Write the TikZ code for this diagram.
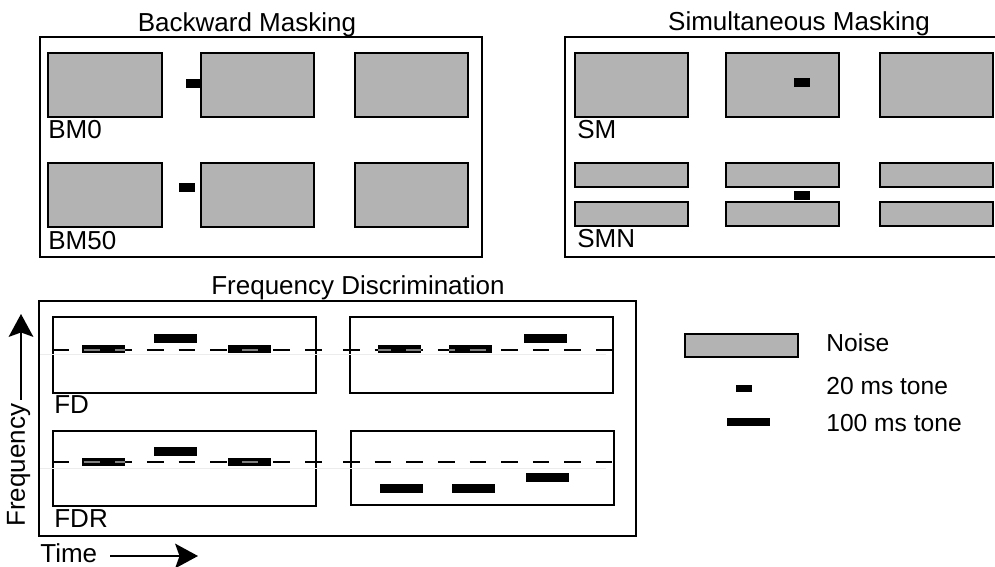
\documentclass[tikz,border=0pt]{standalone}
\usepackage{fontspec}
\setmainfont{Liberation Sans}
\usepackage{tikz}
\usetikzlibrary{arrows.meta}

\definecolor{noisegray}{RGB}{179,179,179}
\definecolor{faintgray}{RGB}{236,236,236}

\tikzset{
    frame/.style={draw=black, line width=1.3pt},
    noise/.style={fill=noisegray, draw=black, line width=1.2pt},
    tone/.style={fill=black},
    freqline/.style={draw=black, line width=1.4pt, dash pattern=on 9.5pt off 8.5pt},
    refline/.style={draw=faintgray, line width=0.5pt},
    title/.style={anchor=base, inner sep=0pt, font=\fontsize{14.8}{17}\selectfont},
    tag/.style={anchor=base west, inner sep=0pt, font=\fontsize{14.8}{17}\selectfont},
    legendtext/.style={anchor=base west, inner sep=0pt, font=\fontsize{14}{17}\selectfont},
    axis/.style={line width=1.3pt, -{Stealth[length=13pt, width=14pt, inset=2.5pt]}}
}

\begin{document}
\begin{tikzpicture}[x=0.02cm, y=-0.02cm]
                \useasboundingbox (0,0) rectangle (995,567);

                % backward masking
                \node[title] (bmtitle) at (247,32) {Backward Masking};
                \draw[frame] (40,37) rectangle (482,257);
                \filldraw[noise] (48,53) rectangle (162,117);
                \filldraw[noise] (201,53) rectangle (314,117);
                \filldraw[noise] (355,53) rectangle (468,117);
                \fill[tone] (186,79) rectangle (201,88);
                \node[tag] (bmzero) at (48,139) {BM0};

                \filldraw[noise] (48,163) rectangle (162,227);
                \filldraw[noise] (201,163) rectangle (314,227);
                \filldraw[noise] (355,163) rectangle (468,227);
                \fill[tone] (179,183) rectangle (195,192);
                \node[tag] (bmfifty) at (48,250) {BM50};

                % simultaneous masking
                \node[title] (smtitle) at (799,31) {Simultaneous Masking};
                \draw[frame] (565,37) rectangle (1005,257);
                \filldraw[noise] (575,53) rectangle (688,117);
                \filldraw[noise] (726,53) rectangle (839,117);
                \filldraw[noise] (880,53) rectangle (993,117);
                \fill[tone] (794,78) rectangle (810,87);
                \node[tag] (sm) at (577,139) {SM};

                \filldraw[noise] (575,163) rectangle (688,187);
                \filldraw[noise] (726,163) rectangle (839,187);
                \filldraw[noise] (880,163) rectangle (993,187);
                \filldraw[noise] (575,202) rectangle (688,226);
                \filldraw[noise] (726,202) rectangle (839,226);
                \filldraw[noise] (880,202) rectangle (993,226);
                \fill[tone] (794,191) rectangle (810,200);
                \node[tag] (smn) at (577,248) {SMN};

                % frequency discrimination
                \node[title] (fdtitle) at (358,295) {Frequency Discrimination};
                \draw[frame] (39,301) rectangle (636,536);
                \draw[frame] (53,317) rectangle (316,393);
                \draw[frame] (350,317) rectangle (613,393);
                \draw[frame] (53,431) rectangle (316,506);
                \draw[frame] (351,431) rectangle (614,505);

                \draw[refline] (40,354) -- (606,354);
                \draw[refline] (40,468) -- (606,468);

                \draw[freqline] (52,350) -- (327,350);
                \draw[freqline] (343,350) -- (612,350);
                \draw[freqline] (52,462) -- (327,462);
                \draw[freqline] (343,462) -- (612,462);

                \fill[tone] (82,345) rectangle (125,353);
                \fill[tone] (154,334) rectangle (197,343);
                \fill[tone] (228,345) rectangle (271,353);
                \fill[tone] (378,345) rectangle (421,353);
                \fill[tone] (449,345) rectangle (492,353);
                \fill[tone] (524,334) rectangle (567,343);
                \node[tag] (fd) at (54,414) {FD};

                \fill[tone] (82,458) rectangle (125,466);
                \fill[tone] (154,447) rectangle (197,456);
                \fill[tone] (228,458) rectangle (271,466);
                \fill[tone] (380,484) rectangle (423,493);
                \fill[tone] (452,484) rectangle (495,493);
                \fill[tone] (526,473) rectangle (569,482);
                \node[tag] (fdr) at (54,528) {FDR};

                % dashes seen through the tones on the line
                \begin{scope}
                    \clip (82,345) rectangle (125,353) (228,345) rectangle (271,353)
                          (378,345) rectangle (421,353) (449,345) rectangle (492,353);
                    \draw[freqline, draw=gray, line width=0.7pt] (52,350) -- (327,350);
                    \draw[freqline, draw=gray, line width=0.7pt] (343,350) -- (612,350);
                \end{scope}
                \begin{scope}
                    \clip (82,458) rectangle (125,466) (228,458) rectangle (271,466);
                    \draw[freqline, draw=gray, line width=0.7pt] (52,462) -- (327,462);
                \end{scope}

                % axes
                \draw[axis] (21,400) -- (21,314);
                \node[tag, rotate=90] (freqlabel) at (25,527) {Frequency};
                \node[tag] (timelabel) at (40,563) {Time};
                \draw[axis] (110,556) -- (198,556);

                % legend
                \filldraw[noise] (685,334) rectangle (798,357);
                \node[legendtext] (noiselabel) at (826,352) {Noise};
                \fill[tone] (736,385) rectangle (752,392);
                \node[legendtext] (shortlabel) at (826,395) {20 ms tone};
                \fill[tone] (727,418) rectangle (770,426);
                \node[legendtext] (longlabel) at (826,432) {100 ms tone};
            \end{tikzpicture}
\end{document}
